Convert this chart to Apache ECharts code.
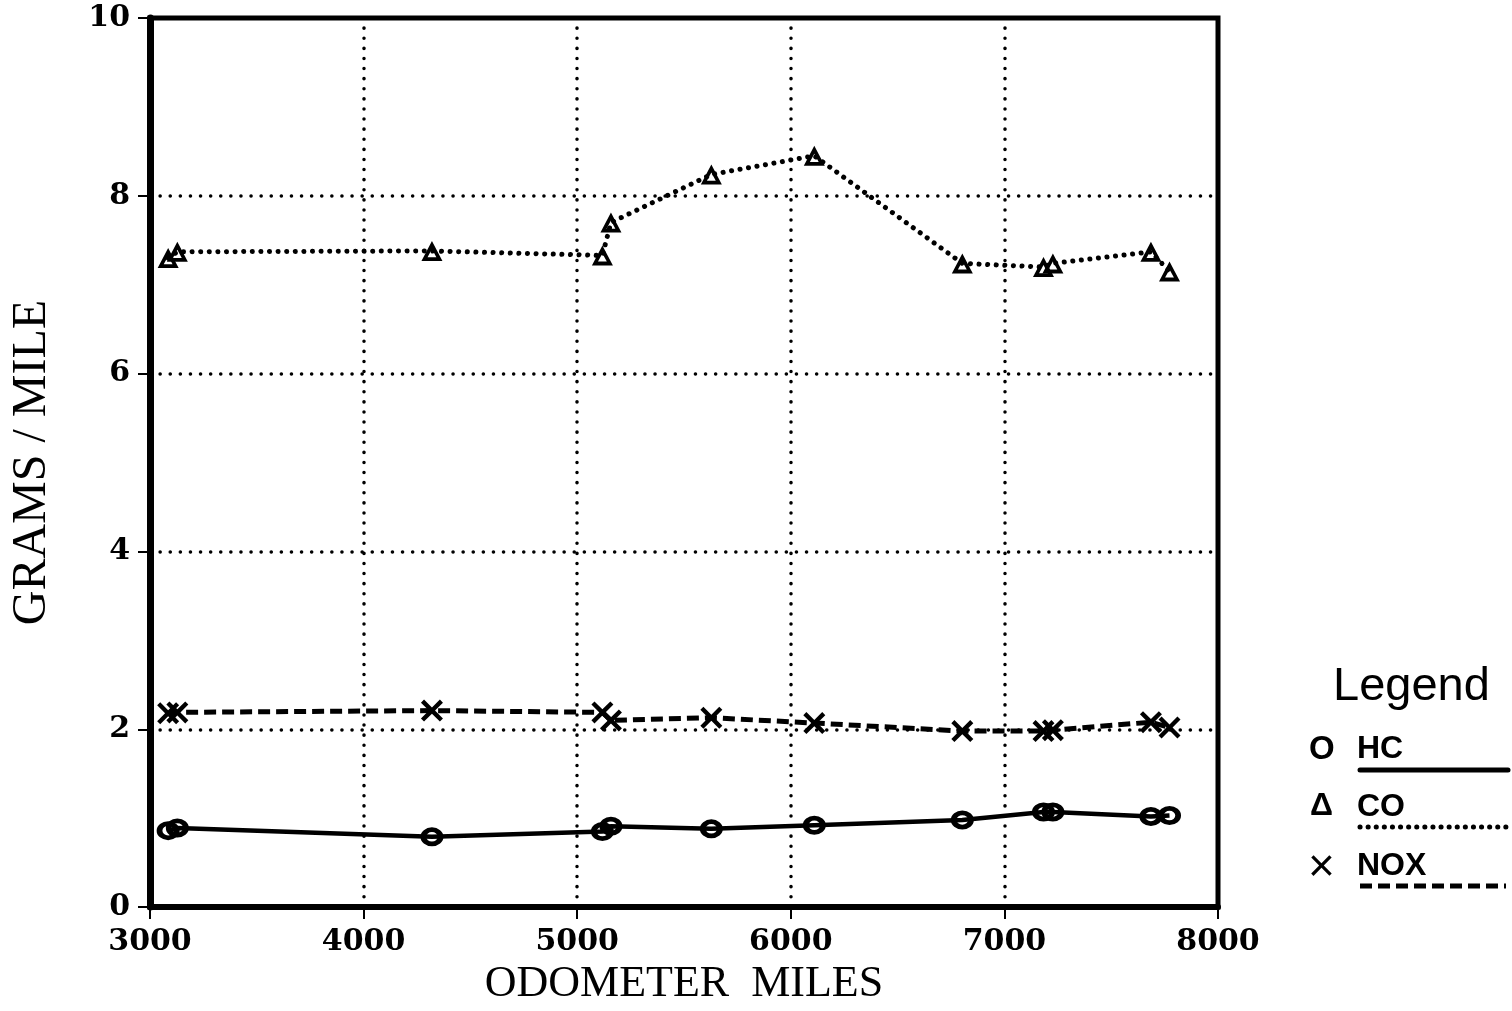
<!DOCTYPE html>
<html>
<head>
<meta charset="utf-8">
<script src="https://cdn.jsdelivr.net/npm/echarts@6/dist/echarts.min.js"></script>
<style>
html,body{margin:0;padding:0;background:#fff;}
#chart{width:1512px;height:1011px;}
</style>
</head>
<body>
<div id="chart"></div>
<script>
// Odometer readings (miles) shared by all three emission tests
const miles = [3085, 3128, 4320, 5118, 5158, 5628, 6110, 6803, 7183, 7227, 7686, 7773];
// Grams / mile
const hc  = [0.86, 0.89, 0.79, 0.85, 0.91, 0.88, 0.92, 0.98, 1.07, 1.07, 1.02, 1.03];
const co  = [7.30, 7.37, 7.38, 7.33, 7.70, 8.24, 8.45, 7.24, 7.20, 7.24, 7.37, 7.15];
const nox = [2.18, 2.19, 2.21, 2.19, 2.10, 2.13, 2.07, 1.98, 1.98, 1.99, 2.08, 2.02];
const seriesNames = ['HC', 'CO', 'NOX'];
const xAxisMin = 3000, xAxisMax = 8000, xAxisStep = 1000;
const yAxisMin = 0, yAxisMax = 10, yAxisStep = 2;

const pair = arr => miles.map((m, i) => [m, arr[i]]);
// hollow marker shapes (outer outline with an inner hole, so the line shows through)
const ringPath = 'path://M0,10A10,10 0 1,1 20,10A10,10 0 1,1 0,10ZM5,10A5,5 0 1,0 15,10A5,5 0 1,0 5,10Z';
const triPath = 'path://M10,0L20,18L0,18ZM10,7.2L5.8,14.6L14.2,14.6Z';
const xPath = 'path://M0,1.4L1.4,0L5,3.6L8.6,0L10,1.4L6.4,5L10,8.6L8.6,10L5,6.4L1.4,10L0,8.6L3.6,5Z';

const chart = echarts.init(document.getElementById('chart'), null, {renderer: 'canvas'});
const tickFont = {fontFamily: 'DejaVu Serif', fontWeight: 'bold', fontSize: 30, color: '#000', formatter: v => String(v)};
const gridDots = {color: '#000', width: 3.5, type: [0.1, 10], cap: 'round'};

chart.setOption({
  animation: false,
  backgroundColor: '#fff',
  grid: {left: 147, top: 18, right: 294, bottom: 103, show: true, borderColor: '#000', borderWidth: 5, backgroundColor: 'transparent'},
  xAxis: {
    type: 'value', min: xAxisMin, max: xAxisMax, interval: xAxisStep,
    name: 'ODOMETER  MILES', nameLocation: 'middle', nameGap: 52,
    nameTextStyle: {fontFamily: 'Liberation Serif', fontSize: 44, color: '#000'},
    axisLine: {show: true, lineStyle: {color: '#000', width: 6}},
    axisTick: {show: true, length: 12, lineStyle: {color: '#000', width: 2}},
    axisLabel: Object.assign({margin: 20}, tickFont),
    splitLine: {show: true, lineStyle: gridDots}
  },
  yAxis: {
    type: 'value', min: yAxisMin, max: yAxisMax, interval: yAxisStep,
    name: 'GRAMS / MILE', nameLocation: 'middle', nameGap: 94, nameRotate: 90,
    nameTextStyle: {fontFamily: 'Liberation Serif', fontSize: 48, color: '#000'},
    axisLine: {show: true, lineStyle: {color: '#000', width: 7}},
    axisTick: {show: true, length: 12, lineStyle: {color: '#000', width: 2}},
    axisLabel: Object.assign({margin: 20}, tickFont),
    splitLine: {show: true, lineStyle: gridDots}
  },
  series: [
    {
      name: seriesNames[0], type: 'line', data: pair(hc),
      symbol: ringPath, symbolSize: [23, 19],
      lineStyle: {color: '#000', width: 4.5},
      itemStyle: {color: '#000'}
    },
    {
      name: seriesNames[1], type: 'line', data: pair(co),
      symbol: triPath, symbolSize: [21, 20],
      lineStyle: {color: '#000', width: 5, type: [0.1, 8.5], cap: 'round'},
      itemStyle: {color: '#000'}
    },
    {
      name: seriesNames[2], type: 'line', data: pair(nox),
      symbol: xPath, symbolSize: 22,
      lineStyle: {color: '#000', width: 5, type: [12, 6]},
      itemStyle: {color: '#000'}
    }
  ],
  graphic: [
    {type: 'text', left: 1333, top: 664, style: {text: 'Legend', fontFamily: 'Liberation Sans', fontSize: 47, fill: '#000'}},
    // HC
    {type: 'text', left: 1309, top: 733, style: {text: 'O', fontFamily: 'Liberation Sans', fontWeight: 'bold', fontSize: 33, fill: '#000'}},
    {type: 'text', left: 1357, top: 733, style: {text: seriesNames[0], fontFamily: 'Liberation Sans', fontWeight: 'bold', fontSize: 32, fill: '#000'}},
    {type: 'line', shape: {x1: 1360, y1: 770, x2: 1508, y2: 770}, style: {stroke: '#000', lineWidth: 5, lineCap: 'round'}},
    // CO
    {type: 'text', left: 1310, top: 790, style: {text: 'Δ', fontFamily: 'Liberation Sans', fontWeight: 'bold', fontSize: 32, fill: '#000'}},
    {type: 'text', left: 1357, top: 791, style: {text: seriesNames[1], fontFamily: 'Liberation Sans', fontWeight: 'bold', fontSize: 32, fill: '#000'}},
    {type: 'line', shape: {x1: 1360, y1: 827, x2: 1506, y2: 827}, style: {stroke: '#000', lineWidth: 5, lineDash: [0.1, 8], lineCap: 'round'}},
    // NOX
    {type: 'text', left: 1308, top: 845, style: {text: '×', fontFamily: 'Liberation Sans', fontSize: 46, fill: '#000'}},
    {type: 'text', left: 1357, top: 850, style: {text: seriesNames[2], fontFamily: 'Liberation Sans', fontWeight: 'bold', fontSize: 32, fill: '#000'}},
    {type: 'line', shape: {x1: 1360, y1: 886, x2: 1506, y2: 886}, style: {stroke: '#000', lineWidth: 5, lineDash: [12, 6]}}
  ]
});
</script>
</body>
</html>
